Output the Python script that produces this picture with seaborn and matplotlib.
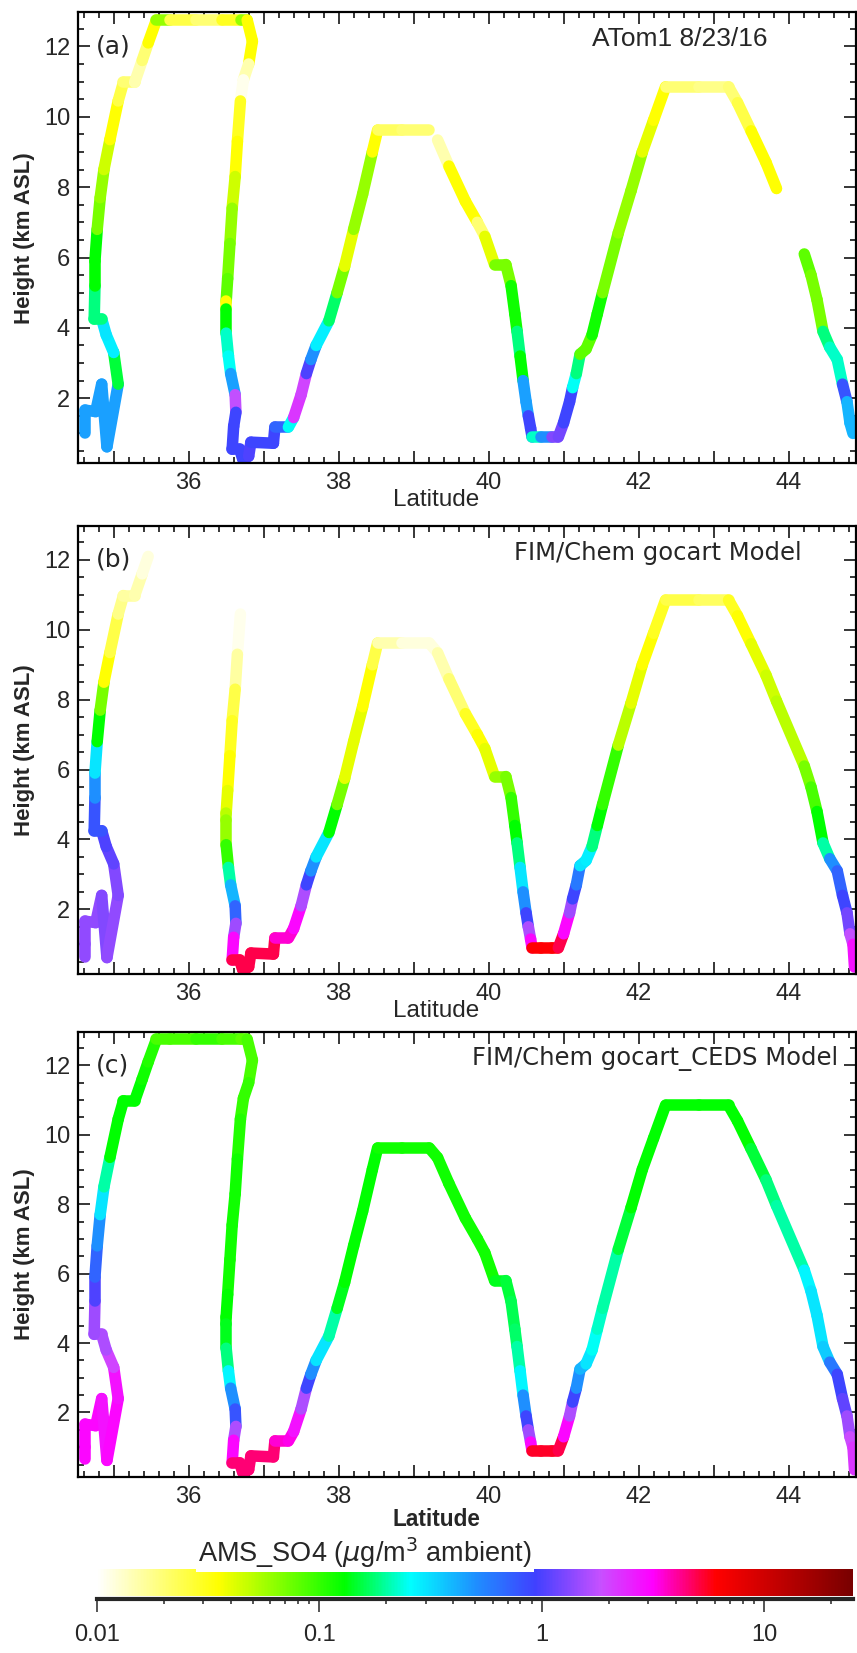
import matplotlib
matplotlib.use("Agg")
import matplotlib.pyplot as plt
import numpy as np
import seaborn as sns
from matplotlib.cm import ScalarMappable
from matplotlib.collections import LineCollection
from matplotlib.colors import LinearSegmentedColormap, LogNorm
from matplotlib.ticker import FixedLocator, FuncFormatter, MultipleLocator, NullFormatter

# flight track shared by the three panels (latitude, km ASL)
LAT = [34.62, 34.62, 34.62, 34.76, 34.84, 34.91, 35.06, 35.00, 34.90, 34.84,
       34.74, 34.75, 34.75, 34.78, 34.82, 34.87, 34.95, 35.06, 35.13, 35.28,
       35.38, 35.46, 35.57, 35.75, 36.10, 36.45, 36.70, 36.78, 36.85, 36.80,
       36.73, 36.69, 36.65, 36.62, 36.58, 36.55, 36.52, 36.50, 36.50, 36.50,
       36.53, 36.56, 36.62, 36.63, 36.60, 36.58, 36.68, 36.72, 36.80, 36.83,
       37.13, 37.15, 37.33, 37.40, 37.50, 37.57, 37.63, 37.70, 37.87, 37.98,
       38.08, 38.20, 38.32, 38.45, 38.52, 38.85, 39.21, 39.32, 39.47, 39.69,
       39.85, 39.95, 40.08, 40.23, 40.30, 40.35, 40.38, 40.42, 40.46, 40.50,
       40.53, 40.56, 40.58, 40.70, 40.85, 40.93, 41.00, 41.08, 41.12, 41.17,
       41.22, 41.30, 41.38, 41.45, 41.52, 41.73, 41.90, 42.05, 42.20, 42.36,
       42.80, 43.20, 43.32, 43.50, 43.70, 43.84, 44.21, 44.30, 44.38, 44.46,
       44.55, 44.65, 44.72, 44.78, 44.82, 44.86, 44.88]
ALT = [0.65, 1.00, 1.66, 1.62, 2.40, 0.62, 2.40, 3.30, 3.80, 4.25,
       4.25, 5.20, 5.90, 6.80, 7.70, 8.50, 9.35, 10.45, 10.98, 10.98,
       11.60, 12.10, 12.75, 12.75, 12.75, 12.75, 12.75, 12.75, 12.15, 11.50,
       11.05, 10.45, 9.30, 8.30, 7.40, 6.40, 5.40, 4.75, 4.55, 3.85,
       3.20, 2.70, 2.10, 1.60, 1.20, 0.55, 0.55, 0.28, 0.35, 0.75,
       0.72, 1.18, 1.18, 1.45, 2.10, 2.70, 3.10, 3.50, 4.20, 5.00,
       5.75, 6.80, 7.80, 9.00, 9.62, 9.62, 9.62, 9.34, 8.60, 7.60,
       7.00, 6.60, 5.80, 5.80, 5.20, 4.40, 3.90, 3.20, 2.50, 1.90,
       1.50, 1.15, 0.90, 0.90, 0.90, 0.90, 1.30, 1.90, 2.30, 2.70,
       3.25, 3.40, 3.80, 4.40, 5.00, 6.70, 7.90, 9.00, 9.90, 10.85,
       10.85, 10.85, 10.40, 9.60, 8.70, 7.96, 6.10, 5.50, 4.80, 3.90,
       3.45, 3.10, 2.40, 1.90, 1.30, 1.00, 0.35]

nan = np.nan
# sulfate (ug/m3) at each track point: measured, gocart, gocart_CEDS
SO4_ATOM = [nan, 0.45, 0.45, 0.45, 0.45, 0.45, 0.15, 0.28, 0.30, 0.18,
            0.18, 0.13, 0.13, 0.07, 0.06, 0.045, 0.035, 0.025, 0.02, 0.015,
            0.02, 0.035, 0.06, 0.025, 0.02, 0.03, 0.06, 0.035, 0.035, 0.015,
            0.011, 0.03, 0.035, 0.045, 0.06, 0.07, 0.08, 0.035, 0.13, 0.22,
            0.25, 0.45, 1.8, 0.9, 0.9, 0.9, 0.9, 0.9, 1.0, 0.9,
            0.9, 0.7, 0.25, 2.2, 2.0, 1.0, 0.5, 0.28, 0.17, 0.07,
            0.04, 0.06, 0.06, 0.035, 0.022, 0.02, nan, 0.015, 0.035, 0.035,
            0.02, 0.04, 0.07, 0.07, 0.12, 0.12, 0.18, 0.13, 0.45, 0.45,
            0.9, 0.9, 0.22, 0.5, 1.3, 1.2, 0.9, 0.9, 0.25, 0.18,
            0.08, 0.08, 0.12, 0.12, 0.07, 0.06, 0.06, 0.04, 0.035, 0.02,
            0.018, 0.02, 0.025, 0.035, 0.035, nan, 0.08, 0.07, 0.07, 0.18,
            0.22, 0.22, 0.8, 0.4, 0.4, nan, nan]
SO4_GOCART = [1.4, 1.4, 1.4, 1.4, 1.3, 1.4, 1.3, 1.1, 1.0, 0.8,
              0.8, 0.5, 0.3, 0.13, 0.07, 0.035, 0.025, 0.018, 0.016, 0.015,
              0.012, nan, nan, nan, nan, nan, nan, nan, nan, nan,
              nan, 0.011, 0.016, 0.025, 0.03, 0.035, 0.04, 0.05, 0.06, 0.10,
              0.20, 0.40, 0.70, 1.5, 3.0, 5.0, 5.0, 5.0, 5.0, 5.0,
              5.0, 3.5, 3.5, 3.0, 1.6, 0.9, 0.5, 0.3, 0.13, 0.07,
              0.04, 0.04, 0.035, 0.025, 0.015, 0.012, 0.012, 0.015, 0.02, 0.03,
              0.035, 0.04, 0.06, 0.07, 0.10, 0.13, 0.18, 0.30, 0.50, 0.90,
              1.6, 3.0, 6.0, 6.0, 6.0, 5.0, 3.0, 1.5, 0.9, 0.6,
              0.3, 0.28, 0.18, 0.13, 0.10, 0.05, 0.04, 0.035, 0.03, 0.025,
              0.022, 0.03, 0.035, 0.04, 0.045, 0.05, 0.07, 0.09, 0.13, 0.20,
              0.50, 0.70, 0.9, 1.2, 1.8, 2.8, nan]
SO4_CEDS = [3.0, 3.0, 3.0, 3.0, 2.8, 3.0, 2.8, 2.0, 1.6, 1.6,
            1.5, 1.0, 0.7, 0.5, 0.3, 0.2, 0.13, 0.13, 0.13, 0.13,
            0.12, 0.11, 0.09, 0.09, 0.10, 0.09, 0.08, 0.09, 0.09, 0.10,
            0.10, 0.11, 0.12, 0.12, 0.12, 0.12, 0.13, 0.13, 0.14, 0.18,
            0.27, 0.50, 0.80, 1.6, 3.0, 4.5, 4.5, 4.5, 4.5, 4.5,
            4.5, 3.5, 3.3, 2.8, 1.6, 0.9, 0.5, 0.3, 0.2, 0.14,
            0.13, 0.13, 0.13, 0.13, 0.12, 0.12, 0.12, 0.12, 0.12, 0.12,
            0.12, 0.12, 0.14, 0.15, 0.16, 0.17, 0.20, 0.27, 0.50, 0.90,
            1.5, 3.0, 5.5, 5.5, 5.5, 5.0, 3.0, 1.6, 0.9, 0.5,
            0.4, 0.3, 0.25, 0.22, 0.20, 0.15, 0.13, 0.13, 0.13, 0.13,
            0.13, 0.13, 0.13, 0.15, 0.18, 0.20, 0.27, 0.30, 0.30, 0.35,
            0.60, 0.90, 1.1, 1.5, 1.9, 2.2, nan]

PANEL_TAGS = ["(a)", "(b)", "(c)"]
PANEL_NOTES = ["ATom1 8/23/16", "FIM/Chem gocart Model", "FIM/Chem gocart_CEDS Model"]
CBAR_TICKS = [0.01, 0.1, 1, 10]
CBAR_LABELS = ["0.01", "0.1", "1", "10"]
CBAR_TITLE = r"AMS_SO4 ($\mu$g/m$^{3}$ ambient)"

W, H = 857, 1653
sns.set_style("ticks")
plt.rcParams["font.family"] = ["Liberation Sans", "DejaVu Sans"]
plt.rcParams["mathtext.fontset"] = "dejavusans"


def fx(px):
    return px / W


def fy(py):
    return 1 - py / H


anchors = [0.0, 0.16, 0.327, 0.414, 0.50, 0.58, 0.667, 0.735, 0.819, 1.0]
colors = ["#ffffff", "#ffff00", "#00ff00", "#00ffff", "#1e90ff", "#4040ff",
          "#c850ff", "#ff00ff", "#ff0000", "#780000"]
cmap = LinearSegmentedColormap.from_list("so4", list(zip(anchors, colors)), N=512)
cmap.set_bad((1, 1, 1, 0))
cmap.set_under("white")
norm = LogNorm(vmin=0.01, vmax=25)

pts = np.column_stack([LAT, ALT])
segs = np.stack([pts[:-1], pts[1:]], axis=1)

fig = plt.figure(figsize=(W / 100, H / 100), dpi=100)

# (top px, bottom px) of each panel
panel_rows = [(12.3, 463.3), (526, 974), (1031.7, 1476.7)]
note_right = [768, 802, 838]
note_font = [("Liberation Sans", 19), ("DejaVu Sans", 17.5), ("DejaVu Sans", 17.5)]
series = [SO4_ATOM, SO4_GOCART, SO4_CEDS]

for i, (top, bot) in enumerate(panel_rows):
    ax = fig.add_axes([fx(77.7), fy(bot), (856 - 77.7) / W, (bot - top) / H])
    vals = np.ma.masked_invalid(np.asarray(series[i], dtype=float)[:-1])
    lc = LineCollection(segs, cmap=cmap, norm=norm, linewidths=8.3,
                        capstyle="round")
    lc.set_array(vals)
    ax.add_collection(lc)

    ax.set_xlim(34.52, 44.90)
    ax.set_ylim(0.15, 12.97)
    ax.xaxis.set_major_locator(MultipleLocator(1))
    ax.xaxis.set_minor_locator(MultipleLocator(0.2))
    ax.xaxis.set_major_formatter(
        FuncFormatter(lambda v, p: f"{v:.0f}" if round(v) % 2 == 0 else ""))
    ax.yaxis.set_major_locator(MultipleLocator(2))
    ax.yaxis.set_minor_locator(MultipleLocator(0.5))
    ax.tick_params(which="both", direction="in", top=True, right=True,
                   width=1.1, color="black", labelsize=17)
    ax.tick_params(which="major", length=8.4)
    ax.tick_params(which="minor", length=4.3)
    ax.tick_params(axis="x", pad=6.5)
    ax.tick_params(axis="y", pad=5.5)
    for sp in ax.spines.values():
        sp.set_linewidth(1.6)
        sp.set_color("black")

    center = (top + bot) / 2
    fig.text(fx(25), fy(center), "Height (km ASL)", rotation=90, ha="center",
             va="center", fontsize=16, fontweight="bold")
    fig.text(fx(96), fy(top + 34), PANEL_TAGS[i], ha="left", va="center",
             fontsize=18, family="DejaVu Sans")
    fam, size = note_font[i]
    fig.text(fx(note_right[i]), fy(top + 27), PANEL_NOTES[i], ha="right",
             va="center", fontsize=size, family=fam)
    if i < 2:
        fig.text(fx(436), fy(bot + 37), "Latitude", ha="center", va="center",
                 fontsize=17.5)
    else:
        fig.text(fx(436), fy(bot + 43), "Latitude", ha="center", va="center",
                 fontsize=16.3, fontweight="bold")

# colour bar band
cax = fig.add_axes([fx(97), fy(1596), (853 - 97) / W, (1596 - 1569) / H])
cb = fig.colorbar(ScalarMappable(norm=norm, cmap=cmap), cax=cax,
                  orientation="horizontal")
cb.outline.set_visible(False)
cb.set_ticks([])
cax.minorticks_off()

# colour bar scale axis
tax = fig.add_axes([fx(97), fy(1599), (853 - 97) / W, 0.0001])
tax.set_xscale("log")
tax.set_xlim(0.01, 25)
tax.set_yticks([])
tax.patch.set_visible(False)
for side in ["top", "left", "right"]:
    tax.spines[side].set_visible(False)
tax.spines["bottom"].set_linewidth(3)
tax.xaxis.set_major_locator(FixedLocator(CBAR_TICKS))
tax.set_xticklabels(CBAR_LABELS)
tax.xaxis.set_minor_formatter(NullFormatter())
tax.tick_params(which="both", direction="out", width=1.1, labelsize=17)
tax.tick_params(which="major", length=9.6, pad=8.3)
tax.tick_params(which="minor", length=3.6)

fig.text(fx(365), fy(1553), CBAR_TITLE, ha="center", va="center", fontsize=19.5,
         bbox=dict(facecolor="white", edgecolor="none", pad=1.5))

fig.savefig("out.png", dpi=100)
